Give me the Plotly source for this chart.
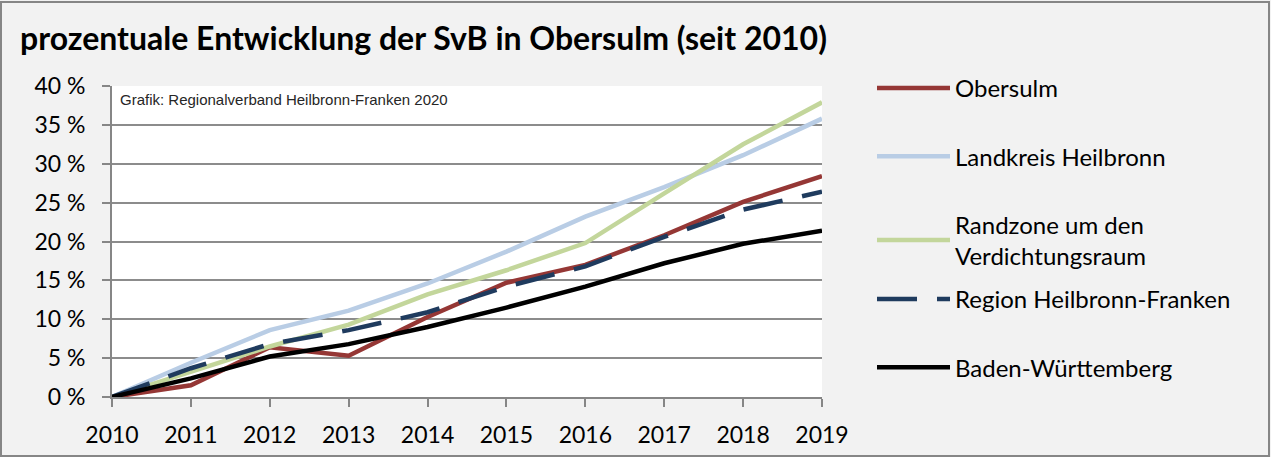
import plotly.graph_objects as go

years = [2010, 2011, 2012, 2013, 2014, 2015, 2016, 2017, 2018, 2019]
obersulm = [0, 1.5, 6.4, 5.3, 10.3, 14.7, 17.0, 20.8, 25.1, 28.4]
landkreis = [0, 4.4, 8.6, 11.1, 14.6, 18.7, 23.2, 27.0, 31.1, 35.8]
randzone = [0, 3.3, 6.5, 9.3, 13.2, 16.3, 19.8, 26.2, 32.5, 37.9]
region = [0, 3.7, 6.8, 8.6, 10.9, 14.2, 16.8, 20.6, 24.1, 26.4]
bw = [0, 2.4, 5.2, 6.8, 9.0, 11.5, 14.2, 17.2, 19.7, 21.4]

names = ["Obersulm", "Landkreis Heilbronn", "Randzone um den<br>Verdichtungsraum",
         "Region Heilbronn-Franken", "Baden-Württemberg"]
series = [obersulm, landkreis, randzone, region, bw]
colors = ["#953735", "#b9cde5", "#c3d69b", "#1f3b5e", "#000000"]
dashes = ["solid", "solid", "solid", "40px,20px", "solid"]
legends = ["legend", "legend", "legend", "legend2", "legend2"]
y_ticks = [0, 5, 10, 15, 20, 25, 30, 35, 40]

FONT = "Lato"

fig = go.Figure()
for i, (n, s, c, d, lg) in enumerate(zip(names, series, colors, dashes, legends)):
    fig.add_trace(go.Scatter(x=years, y=s, name=n, mode="lines",
                             line=dict(color=c, width=4.5, dash=d),
                             legendgroup=f"g{i}", legend=lg))

W, H = 1271, 457
ml, mr, mt, mb = 112, 449, 86, 60
pw, ph = W - ml - mr, H - mt - mb

LEG_FONT = 24
GAP = 34
leg_common = dict(xanchor="left", yanchor="top", bgcolor="rgba(0,0,0,0)",
                  font=dict(family=FONT, size=LEG_FONT), tracegroupgap=GAP,
                  traceorder="grouped", itemwidth=73)
leg_x = (872 - ml) / pw

fig.update_layout(
    width=W, height=H,
    margin=dict(l=ml, r=mr, t=mt, b=mb, pad=0, autoexpand=False),
    paper_bgcolor="#f2f2f2",
    plot_bgcolor="#ffffff",
    font=dict(family=FONT, color="#000000", size=23),
    title=dict(text="<b>prozentuale Entwicklung der SvB in Obersulm (seit 2010)</b>",
               x=20 / W, xanchor="left", y=1 - 39 / H, yanchor="middle",
               font=dict(family=FONT, size=32, color="#000000")),
    legend=dict(x=leg_x, y=1 + (mt - 66) / ph, **leg_common),
    legend2=dict(x=leg_x, y=1 - (277 - mt) / ph, **leg_common),
    showlegend=True,
    xaxis=dict(range=[2010, 2019], tickmode="array", tickvals=years,
               ticktext=[str(y) for y in years], automargin=False,
               showgrid=False, showline=True, linecolor="#868686", linewidth=2,
               ticks="outside", ticklen=8, tickcolor="#868686", tickwidth=2,
               ticklabelstandoff=8,
               tickfont=dict(size=23), zeroline=False, fixedrange=True),
    yaxis=dict(range=[0, 40], tickmode="array", tickvals=y_ticks,
               ticktext=[f"{v} %" for v in y_ticks], automargin=False,
               showgrid=True, gridcolor="#8c8c8c", gridwidth=2,
               showline=True, linecolor="#868686", linewidth=2,
               ticks="outside", ticklen=8, tickcolor="#868686", tickwidth=2,
               ticklabelstandoff=12,
               tickfont=dict(size=23), zeroline=False, fixedrange=True),
)

fig.add_annotation(text="Grafik: Regionalverband Heilbronn-Franken 2020",
                   xref="paper", yref="paper", x=6 / pw, y=1 - 3 / ph,
                   xanchor="left", yanchor="top", showarrow=False,
                   font=dict(family="Liberation Sans", size=15, color="#262626"))

# outer chart border
fig.add_shape(type="rect", xref="paper", yref="paper",
              x0=-(ml - 1) / pw, x1=1 + (mr - 2) / pw,
              y0=-(mb - 1) / ph, y1=1 + (mt - 2) / ph,
              line=dict(color="#868686", width=2), fillcolor="rgba(0,0,0,0)",
              layer="below")

fig.write_html("out.html", config={"displayModeBar": False},
               post_script="document.body.style.margin='0';document.body.style.overflow='hidden';")
